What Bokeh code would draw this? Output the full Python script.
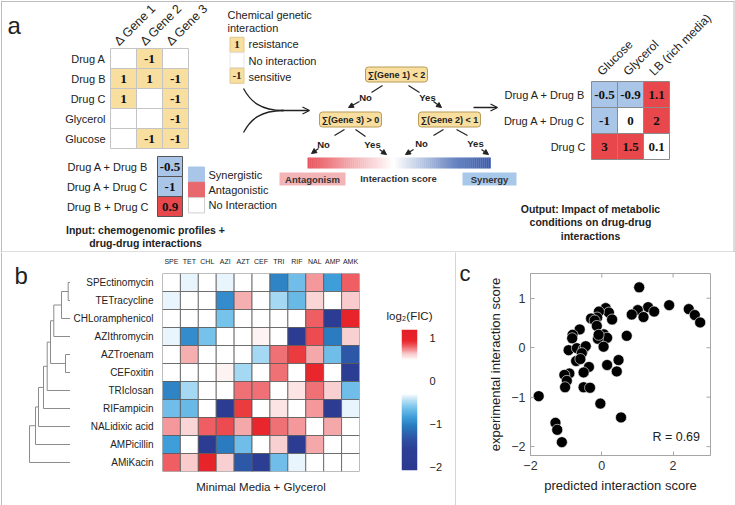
import numpy as np
from bokeh.plotting import figure
from bokeh.layouts import column, row
from bokeh.models import (Range1d, FactorRange, LinearAxis, FixedTicker, Arrow, Title,
                          NormalHead, OpenHead, LinearColorMapper, ColumnDataSource)
from bokeh.core.properties import value
from bokeh.transform import transform
from bokeh.embed import file_html
from bokeh.resources import INLINE

SANS = "Liberation Sans"
SERIF = "Liberation Serif"
INK = "#222222"

# ---------------- data: panel a ----------------
chem_rows = ["Drug A", "Drug B", "Drug C", "Glycerol", "Glucose"]
chem_genes = ["Δ Gene 1", "Δ Gene 2", "Δ Gene 3"]
chem_values = [[0, -1, 0], [1, 1, -1], [1, 0, -1], [0, 0, -1], [0, -1, -1]]
legend_codes = ["1", "", "-1"]
legend_texts = ["resistance", "No interaction", "sensitive"]
pair_labels = ["Drug A + Drug B", "Drug A + Drug C", "Drug B + Drug C"]
pair_scores = [-0.5, -1, 0.9]
pair_legend = ["Synergistic", "Antagonistic", "No Interaction"]
tree_rules = ["∑(Gene 1) < 2", "∑(Gene 3) > 0", "∑(Gene 2) < 1"]
out_rows = ["Drug A + Drug B", "Drug A + Drug C", "Drug C"]
out_conditions = ["Glucose", "Glycerol", "LB (rich media)"]
out_values = [[-0.5, -0.9, 1.1], [-1, 0, 2], [3, 1.5, 0.1]]

# ---------------- data: panel b ----------------
drug_codes = ["SPE", "TET", "CHL", "AZI", "AZT", "CEF", "TRI", "RIF", "NAL", "AMP", "AMK"]
drug_names = ["SPEctinomycin", "TETracycline", "CHLoramphenicol", "AZIthromycin", "AZTroenam",
              "CEFoxitin", "TRIclosan", "RIFampicin", "NALidixic acid", "AMPicillin", "AMiKacin"]
log2_fic = [
    [0, -0.35, 0, -0.35, 0, 0, -1.0, -0.65, 0.72, -0.85, 0.82],
    [-0.35, 0, 0, -0.95, 0.68, 0, -0.5, -0.68, 0.6, 0, 0.63],
    [0, 0, 0, -0.62, 0, 0, 0, 0, 0.82, -1.8, 1.0],
    [-0.35, -0.95, -0.62, 0, 0, 0.53, 0, -1.8, 0.86, -1.05, 0.62],
    [0, 0.68, 0, 0, 0, -0.5, 0.78, 0.9, 0.7, -0.65, -1.3],
    [0, 0, 0, 0.53, -0.5, 0, 0.78, 0, 0.95, 0, -1.7],
    [-1.0, -0.5, 0, 0, 0.78, 0.78, 0, 0.57, 0.78, 0.62, -0.65],
    [-0.65, -0.68, 0, -1.8, 0.9, 0, 0.57, 0, 0.72, -1.8, -0.35],
    [0.72, 0.6, 0.82, 0.86, 0.7, 0.95, 0.78, 0.72, 0, 0.7, 0],
    [-0.85, 0, -1.8, -1.05, -0.65, 0, 0.62, -1.8, 0.7, 0, 0],
    [0.82, 0.63, 1.0, 0.62, -1.3, -1.7, -0.65, -0.35, 0, 0, 0],
]
# (child a, child b, merge distance); leaves 0..10, new clusters numbered from 11
dendro_merges = [(0, 1, 0.23), (11, 2, 0.9), (12, 3, 1.67), (4, 5, 0.5), (13, 14, 2.0),
                 (15, 6, 2.33), (16, 7, 2.7), (17, 8, 3.2), (18, 9, 3.5), (19, 10, 4.1)]
cbar_ticks = [-2, -1, 0, 1]

# ---------------- data: panel c ----------------
predicted = [1.05, 1.89, 2.44, 2.61, 2.76, 1.30, 1.47, 1.01, 0.84, 1.17, 0.70, 0.11, 0.20,
             0.29, -0.08, -0.13, -0.30, -0.20, -0.14, 0.06, 0.15, -0.11, -0.09, 0.05, -0.62,
             -0.82, -0.83, -0.93, -0.70, -0.51, -0.45, -0.56, -0.72, -0.60, -0.36, -0.51,
             -0.91, -1.05, -0.98, -1.03, -0.51, -0.33, 0.15, 0.47, 0.42, -0.04, 0.54, -1.77,
             -1.30, -1.25, -1.12]
experimental = [1.22, 0.86, 0.78, 0.66, 0.51, 0.82, 0.73, 0.76, 0.67, 0.62, 0.24, 0.80, 0.71,
                0.57, 0.73, 0.61, 0.59, 0.55, 0.44, 0.27, 0.20, 0.18, 0.26, 0.02, 0.37,
                0.26, 0.19, -0.05, -0.01, -0.03, 0.03, -0.11, -0.27, -0.23, -0.39, -0.50,
                -0.52, -0.55, -0.67, -0.80, -0.80, -0.81, -0.35, -0.25, -0.48, -1.13, -1.41, -0.98,
                -1.52, -1.66, -1.91]
x_ticks_c = [-2, 0, 2]
y_ticks_c = [-2, -1, 0, 1]

# ---------------- styles ----------------
YELLOW = "#f8de9f"
BLUE_CELL = "#a9c5e8"
RED_CELL = "#e8474c"
FRAME = "#bdbdbd"
FIC_LOW, FIC_HIGH = -2.08, 1.2
fic_stops = [(-2.08, "#2b3990"), (-1.6, "#2c3f95"), (-1.35, "#2e52a3"), (-1.05, "#2a7bbf"),
             (-0.85, "#3d9dd9"), (-0.6, "#7cc6ec"), (-0.4, "#cde9f7"), (-0.3, "#ffffff"),
             (0.5, "#ffffff"), (0.65, "#f8c5c6"), (0.8, "#ef6a6e"), (0.95, "#e8262b"),
             (1.2, "#e41f26")]
bar_stops = [(0.0, "#e8545c"), (0.47, "#ffffff"), (0.8, "#6a86c2"), (1.0, "#3a5aa8")]


def interp_colors(stops, vals):
    sv = [s[0] for s in stops]
    cols = [tuple(int(s[1][k:k + 2], 16) for k in (1, 3, 5)) for s in stops]
    out = []
    for v in vals:
        rgb = [int(round(np.interp(v, sv, [c[k] for c in cols]))) for k in range(3)]
        out.append("#%02x%02x%02x" % tuple(rgb))
    return out


def T(p, xs, ys, texts, size, align="left", bold=False, font=SANS, color=INK, angle=0.0,
      baseline="middle"):
    keep = [k for k, t in enumerate(texts) if t != ""]
    p.text(x=[list(xs)[k] for k in keep], y=[list(ys)[k] for k in keep],
           text=[list(texts)[k] for k in keep], text_font=value(font),
           text_font_size=f"{size}px", text_font_style="bold" if bold else "normal",
           text_align=align, text_baseline=baseline, text_color=color, angle=angle)


def fmt(v):
    return "%g" % v


def score_color(v):
    if v <= -0.5:
        return BLUE_CELL
    if v >= 0.9:
        return RED_CELL
    return "white"


def rounded_rect(p, **kw):
    try:
        p.rect(border_radius=3, **kw)
    except Exception:
        p.rect(**kw)


def bare(p):
    try:
        p.frame_align = False
    except Exception:
        pass
    p.xgrid.visible = False
    p.ygrid.visible = False
    p.outline_line_color = None


# =============== panel a (schematic canvas, pixel coordinates) ===============
pa = figure(width=735, height=252, x_range=Range1d(0, 735), y_range=Range1d(252, 0),
            x_axis_location=None, y_axis_location=None, min_border=0,
            output_backend="svg", toolbar_location=None)
bare(pa)

# panel frame
pa.segment(x0=[1, 1, 733.5, 0], y0=[1, 0, 0, 251.5], x1=[733.5, 1, 733.5, 735],
           y1=[1, 252, 252, 251.5], line_color=FRAME, line_width=1)
T(pa, [7], [25], ["a"], 24, baseline="alphabetic")

# chemogenomic matrix
CW, CH, CX, CY = 26, 20, 110, 48
cx, cy, cf, ct = [], [], [], []
for i in range(len(chem_rows)):
    for j in range(len(chem_genes)):
        v = chem_values[i][j]
        cx.append(CX + CW * (j + 0.5))
        cy.append(CY + CH * (i + 0.5))
        cf.append(YELLOW if v else "white")
        ct.append(fmt(v) if v else "")
pa.rect(cx, cy, width=CW, height=CH, fill_color=cf, line_color="#c4c4c4", line_width=1)
T(pa, cx, cy, ct, 13.5, align="center", bold=True, font=SERIF, color="#111111")
T(pa, [CX - 5] * len(chem_rows), [CY + CH * (i + 0.5) for i in range(len(chem_rows))],
  chem_rows, 11, align="right")
T(pa, [CX + CW * j + 6 for j in range(len(chem_genes))], [CY - 5] * len(chem_genes),
  chem_genes, 12.5, angle=np.pi / 4)

# drug-drug interaction inputs
PX, PY, PW, PH = 157, 156, 25, 20
py = [PY + PH * (k + 0.5) for k in range(len(pair_scores))]
pa.rect([PX + PW / 2] * len(pair_scores), py, width=PW, height=PH,
        fill_color=[score_color(v) for v in pair_scores], line_color="#555555", line_width=1)
T(pa, [PX + PW / 2] * len(pair_scores), py, [fmt(v) for v in pair_scores], 13, align="center",
  bold=True, font=SERIF, color="#111111")
T(pa, [PX - 9] * len(pair_labels), py, pair_labels, 11, align="right")
LX, LY, LW, LH = 188, 166.5, 16, 15.3
ly = [LY + LH * (k + 0.5) for k in range(len(pair_legend))]
pa.rect([LX + LW / 2] * 3, ly, width=LW, height=LH, fill_color=[BLUE_CELL, "#e8696d", "white"],
        line_color=[BLUE_CELL, "#e8696d", "#cfcfcf"])
T(pa, [LX + LW + 4] * 3, ly, pair_legend, 11)
T(pa, [145, 145], [229, 242], ["Input: chemogenomic profiles +", "drug-drug interactions"], 10.5,
  align="center", bold=True)

# chemical genetic interaction legend
T(pa, [227, 227], [14, 27], ["Chemical genetic", "interaction"], 11)
gy = [36.5 + 15.5 * (k + 0.5) for k in range(3)]
pa.rect([236.5] * 3, gy, width=14, height=15, fill_color=[YELLOW, "white", YELLOW],
        line_color=["#e0c98f", "#e6e6e6", "#e0c98f"])
T(pa, [236.5] * 3, gy, legend_codes, 11, align="center", bold=True, font=SERIF)
T(pa, [248] * 3, [43, 60, 76], legend_texts, 11)

# merging curves and arrow
pa.bezier(x0=[243, 243], y0=[88, 132], x1=[283, 283], y1=[110, 110],
          cx0=[250, 250], cy0=[101, 119], cx1=[260, 260], cy1=[110, 110],
          line_color=INK, line_width=1.3)
pa.add_layout(Arrow(end=OpenHead(size=7, line_color=INK, line_width=1.3), x_start=281, y_start=110,
                    x_end=309, y_end=110, line_color=INK, line_width=1.3))

# decision tree
tx, ty = [396, 350, 449], [74, 119, 119]
rounded_rect(pa, x=tx, y=ty, width=62, height=15, fill_color=YELLOW, line_color="#b89b58",
             line_width=1)
T(pa, tx, ty, tree_rules, 9, align="center", bold=True)
segs = [(382, 85, 371, 92), (408, 85, 419, 92), (344, 129, 334, 135), (355, 129, 365, 136),
        (443, 129, 433, 135), (456, 129, 467, 135)]
pa.segment(x0=[s[0] for s in segs], y0=[s[1] for s in segs], x1=[s[2] for s in segs],
           y1=[s[3] for s in segs], line_color=INK, line_width=1.2)
for (xs_, ys_, xe, ye) in [(359, 101, 348, 107), (433, 101, 441, 107), (318, 148, 311, 153),
                           (379, 149, 386, 154), (413, 149, 405, 154), (481, 149, 488, 154)]:
    pa.add_layout(Arrow(end=NormalHead(size=5, fill_color=INK, line_color=INK), x_start=xs_,
                        y_start=ys_, x_end=xe, y_end=ye, line_color=INK, line_width=1.2))
T(pa, [365, 427, 323, 372, 421, 475], [97, 97, 144, 144, 143, 143],
  ["No", "Yes", "No", "Yes", "No", "Yes"], 9.5, align="center", bold=True)

# interaction score gradient
nb = 90
edges = np.linspace(307, 490, nb + 1)
pa.quad(left=edges[:-1], right=edges[1:] + 0.3, top=157, bottom=168,
        fill_color=interp_colors(bar_stops, (np.arange(nb) + 0.5) / nb), line_color=None)
pa.quad(left=[279, 462], right=[345, 516], top=[172, 172], bottom=[185, 185],
        fill_color=["#f3b4b7", "#a8c8ea"], line_color=None)
T(pa, [312, 398, 489], [178.5, 177.5, 178.5], ["Antagonism", "Interaction score", "Synergy"], 9.5,
  align="center", bold=True, color="#333333")

pa.add_layout(Arrow(end=OpenHead(size=7, line_color=INK, line_width=1.3), x_start=473, y_start=107,
                    x_end=497, y_end=107, line_color=INK, line_width=1.3))

# output matrix
OX, OY, OW, OH = 591, 81, 26, 26
ox, oy, of, ot = [], [], [], []
for i in range(len(out_rows)):
    for j in range(len(out_conditions)):
        v = out_values[i][j]
        ox.append(OX + OW * (j + 0.5))
        oy.append(OY + OH * (i + 0.5))
        of.append(score_color(v))
        ot.append(fmt(v))
pa.rect(ox, oy, width=OW, height=OH, fill_color=of, line_color="#8a8a8a", line_width=1)
T(pa, ox, oy, ot, 13, align="center", bold=True, font=SERIF, color="#111111")
T(pa, [OX - 6] * len(out_rows), [OY + OH * (i + 0.5) for i in range(len(out_rows))], out_rows, 11,
  align="right")
T(pa, [OX + OW * j + 8 for j in range(len(out_conditions))], [OY - 8] * len(out_conditions),
  out_conditions, 12, angle=np.pi / 4)
T(pa, [590, 590, 590], [208, 221.5, 235],
  ["Output: Impact of metabolic", "conditions on drug-drug", "interactions"], 10.5,
  align="center", bold=True)

# =============== panel b ===============
H_B = 253
TOP_B, BOT_B = 21, 34          # heat-map frame spans page y 273..471
ROW_PX = 18.0
nrow = len(drug_names)

# dendrogram (full-height frame, rows aligned with the heat map)
pd_ = figure(width=70, height=H_B, x_range=Range1d(7.0, 0),
             y_range=Range1d(-BOT_B / ROW_PX, nrow + TOP_B / ROW_PX),
             x_axis_location=None, y_axis_location=None, min_border=0, output_backend="svg",
             toolbar_location=None)
bare(pd_)
node_y = {i: nrow - 0.5 - i for i in range(nrow)}
node_h = {i: 0.0 for i in range(nrow)}
dx0, dy0, dx1, dy1 = [], [], [], []
nid = nrow
for a, b, h in dendro_merges:
    for c in (a, b):
        dx0.append(node_h[c]); dy0.append(node_y[c]); dx1.append(h); dy1.append(node_y[c])
    dx0.append(h); dy0.append(node_y[a]); dx1.append(h); dy1.append(node_y[b])
    node_y[nid] = (node_y[a] + node_y[b]) / 2
    node_h[nid] = h
    nid += 1
pd_.segment(x0=dx0, y0=dy0, x1=dx1, y1=dy1, line_color="#8c8c8c", line_width=1)
pd_.segment(x0=[6.9], y0=[-BOT_B / ROW_PX], x1=[6.9], y1=[nrow + TOP_B / ROW_PX],
            line_color=FRAME, line_width=1)
T(pd_, [5.6], [nrow - 2 / ROW_PX], ["b"], 24, baseline="alphabetic")

# heat map
mapper = LinearColorMapper(palette=interp_colors(fic_stops, np.linspace(FIC_LOW, FIC_HIGH, 256)),
                           low=FIC_LOW, high=FIC_HIGH)
hm_row, hm_col, hm_v = [], [], []
for i, rname in enumerate(drug_names):
    for j, code in enumerate(drug_codes):
        hm_row.append(rname); hm_col.append(code); hm_v.append(log2_fic[i][j])
src = ColumnDataSource(dict(row=hm_row, col=hm_col, v=hm_v))
ph = figure(width=290, height=H_B, x_range=FactorRange(factors=drug_codes),
            y_range=FactorRange(factors=drug_names[::-1]), x_axis_location="above",
            min_border_left=86, min_border_right=1, min_border_top=TOP_B, min_border_bottom=BOT_B,
            output_backend="svg", toolbar_location=None)
bare(ph)
ph.rect(x="col", y="row", width=1, height=1, source=src, fill_color=transform("v", mapper),
        line_color="#5a5a5a", line_width=0.8)
for ax in (ph.xaxis, ph.yaxis):
    ax.axis_line_color = None
    ax.major_tick_line_color = None
    ax.minor_tick_line_color = None
    ax.major_label_text_font = SANS
    ax.major_label_text_color = INK
ph.xaxis.major_label_text_font_size = "7px"
ph.xaxis.major_label_standoff = 3
ph.yaxis.major_label_text_font_size = "10px"
ph.yaxis.major_label_standoff = 3
ph.add_layout(Title(text="Minimal Media + Glycerol", align="center", text_font=SANS,
                    text_font_size="11.5px", text_font_style="normal", text_color=INK,
                    standoff=15), "below")

# colour bar
pcb = figure(width=95, height=H_B, x_range=Range1d(0, 1), y_range=Range1d(FIC_LOW, FIC_HIGH),
             x_axis_location=None, y_axis_location="right", min_border_left=41,
             min_border_right=38, min_border_top=77, min_border_bottom=35,
             title="log₂(FIC)", output_backend="svg", toolbar_location=None)
bare(pcb)
pcb.title.align = "center"
pcb.title.text_font = SANS
pcb.title.text_font_size = "11.5px"
pcb.title.text_font_style = "normal"
pcb.title.text_color = INK
pcb.title.standoff = 15
pcb.image(image=[np.linspace(FIC_LOW, FIC_HIGH, 300).reshape(-1, 1)], x=0, y=FIC_LOW, dw=1,
          dh=FIC_HIGH - FIC_LOW, color_mapper=mapper)
pcb.yaxis.ticker = FixedTicker(ticks=cbar_ticks)
pcb.yaxis.axis_line_color = None
pcb.yaxis.major_tick_line_color = None
pcb.yaxis.minor_tick_line_color = None
pcb.yaxis.major_label_text_font = SANS
pcb.yaxis.major_label_text_font_size = "11px"
pcb.yaxis.major_label_text_color = INK
pcb.yaxis.major_label_standoff = 6

# separator between panels b and c
sep = figure(width=1, height=H_B, x_range=Range1d(0, 1), y_range=Range1d(0, 1),
             x_axis_location=None, y_axis_location=None, min_border=0,
             background_fill_color=FRAME, border_fill_color=FRAME,
             output_backend="svg", toolbar_location=None)
bare(sep)
sep.quad(left=[0], right=[1], bottom=[0], top=[1], fill_color=FRAME, line_color=None)

# =============== panel c ===============
AXC = "#a6a6a6"
XR = (-2, 3.05)
YR = (-2.18, 1.5)
pc = figure(width=279, height=H_B, x_range=Range1d(*XR), y_range=Range1d(*YR),
            min_border_left=74, min_border_right=25, min_border_top=21, min_border_bottom=50,
            output_backend="svg", toolbar_location=None)
bare(pc)
pc.outline_line_color = AXC
pc.scatter(predicted, experimental, size=11, fill_color="black", line_color="white",
           line_width=0.6)
pc.xaxis.ticker = FixedTicker(ticks=x_ticks_c)
pc.yaxis.ticker = FixedTicker(ticks=y_ticks_c)
pc.xaxis.axis_label = "predicted interaction score"
pc.yaxis.axis_label = "experimental interaction score"
for ax in (pc.xaxis[0], pc.yaxis[0]):
    ax.axis_line_color = AXC
    ax.major_tick_line_color = AXC
    ax.major_tick_in = 4
    ax.major_tick_out = 0
    ax.minor_tick_line_color = None
    ax.major_label_text_font = SANS
    ax.major_label_text_font_size = "12.5px"
    ax.major_label_text_color = "#333333"
    ax.axis_label_text_font = SANS
    ax.axis_label_text_font_size = "13px"
    ax.axis_label_text_font_style = "normal"
    ax.axis_label_text_color = INK
    ax.axis_label_standoff = 5
# opposite-side tick marks (box style)
tx_len = 4 * (XR[1] - XR[0]) / 180.0
ty_len = 4 * (YR[1] - YR[0]) / 182.0
pc.segment(x0=[XR[1] - tx_len] * len(y_ticks_c), y0=y_ticks_c, x1=[XR[1]] * len(y_ticks_c),
           y1=y_ticks_c, line_color=AXC, line_width=1)
pc.segment(x0=x_ticks_c, y0=[YR[1] - ty_len] * len(x_ticks_c), x1=x_ticks_c,
           y1=[YR[1]] * len(x_ticks_c), line_color=AXC, line_width=1)
T(pc, [1.42], [-1.8], ["R = 0.69"], 12.5)
# panel letter as the single label of an outer left axis
c_tick = YR[1] - 0.01
pc.add_layout(LinearAxis(ticker=FixedTicker(ticks=[c_tick]), major_label_overrides={c_tick: "c"},
                         major_label_text_font=SANS, major_label_text_font_size="22px",
                         major_label_text_color=INK, axis_line_color=None,
                         major_tick_line_color=None, minor_tick_line_color=None,
                         major_label_standoff=9), "left")

layout = column(pa, row(pd_, ph, pcb, sep, pc))
open("out.html", "w").write(file_html(layout, INLINE))
